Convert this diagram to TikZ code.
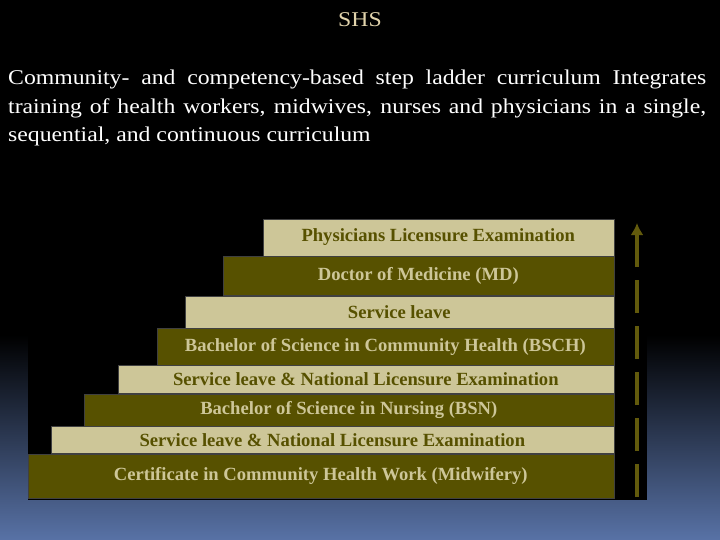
\documentclass[tikz,border=0pt]{standalone}
\usepackage{fontspec}
\setmainfont{Liberation Serif}
\newfontfamily\widefont[FakeStretch=1.13]{Liberation Serif}
\usetikzlibrary{positioning,arrows.meta}
\definecolor{barlight}{RGB}{205,198,152}
\definecolor{bardark}{RGB}{87,81,0}
\definecolor{arrowolive}{RGB}{98,90,12}
\definecolor{titletan}{RGB}{226,212,172}
\definecolor{bgblue}{RGB}{88,114,166}

\begin{document}
\begin{tikzpicture}[x=1pt,y=-1pt,
  stepfont/.style={font=\bfseries\fontsize{18.6}{20}\selectfont},
  lightbar/.style={stepfont,draw=black!75,fill=barlight,text=bardark,anchor=south east,inner sep=0pt},
  darkbar/.style={stepfont,draw=black!75,fill=bardark,text=barlight,anchor=south east,inner sep=0pt},
  ladder/.style={arrowolive,line width=4pt,dash pattern=on 33pt off 13pt,-{Latex[length=12pt,width=13pt]}}
]
% the background
\useasboundingbox (0,0) rectangle (720,540);
\fill[black] (0,0) rectangle (720,336);
\shade[top color=black,bottom color=bgblue] (0,335) rectangle (720,540);
\fill[black] (28,212) rectangle (647,500);

% the headings
\node[titletan,anchor=base,font=\widefont\fontsize{21}{24}\selectfont] (title) at (360,27) {SHS};
\node[white,anchor=base west,inner sep=0pt,text width=698pt,align=justify,
  font=\widefont\fontsize{21}{28.5}\selectfont] (intro) at (8,85)
  {Community- and competency-based step ladder curriculum Integrates\linebreak
   training of health workers, midwives, nurses and physicians in a single,\linebreak
   sequential, and continuous curriculum};

% the steps, bottom up
\node[darkbar,minimum width=586pt,minimum height=44pt] (cert) at (614,498)
  {Certificate in Community Health Work (Midwifery)};
\node[lightbar,minimum width=563pt,minimum height=27pt] (nle1) at (cert.north east)
  {Service leave \& National Licensure Examination};
\node[darkbar,minimum width=530pt,minimum height=32pt] (bsn) at (nle1.north east)
  {Bachelor of Science in Nursing (BSN)};
\node[lightbar,minimum width=496pt,minimum height=28pt] (nle2) at (bsn.north east)
  {Service leave \& National Licensure Examination};
\node[darkbar,minimum width=457pt,minimum height=37pt] (bsch) at (nle2.north east)
  {Bachelor of Science in Community Health (BSCH)};
\node[lightbar,minimum width=429pt,minimum height=32pt] (leave) at (bsch.north east)
  {Service leave};
\node[darkbar,minimum width=391pt,minimum height=39pt] (md) at (leave.north east)
  {Doctor of Medicine (MD)};
\node[lightbar,minimum width=351pt,minimum height=37pt] (ple) at (md.north east)
  {Physicians Licensure Examination};

% the arrow
\coordinate (up0) at (637,497);
\coordinate (up1) at (637,223);
\draw[ladder] (up0) -- (up1);
\end{tikzpicture}
\end{document}
